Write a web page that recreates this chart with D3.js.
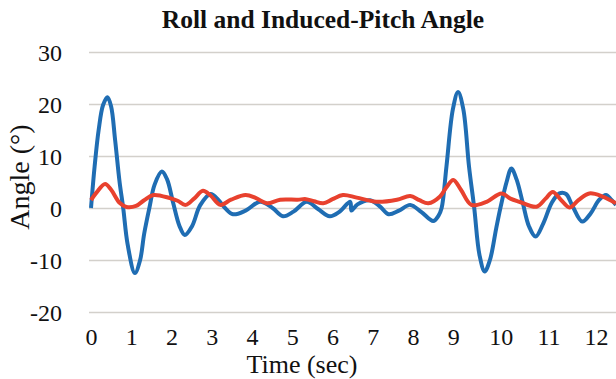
<!DOCTYPE html>
<html>
<head>
<meta charset="utf-8">
<script src="https://cdn.jsdelivr.net/npm/d3@7"></script>
<style>
  body { margin: 0; background: #fff; }
  svg { display: block; }
  svg text { font-family: "Liberation Serif", "Times New Roman", serif; }
</style>
</head>
<body>
<div class="canvas"></div>
<script>
// Data (time in sec, angle in degrees)
const rollTime = [0, 0.09, 0.19, 0.30, 0.41, 0.50, 0.60, 0.71, 0.80, 0.91, 1.09, 1.22, 1.32, 1.45, 1.58, 1.76, 1.89, 2.04, 2.20, 2.33,
  2.51, 2.71, 2.97, 3.17, 3.33, 3.53, 3.84, 4.20, 4.51, 4.77, 5.03, 5.36, 5.64, 5.93, 6.16, 6.44, 6.47, 6.62, 6.93, 7.19,
  7.39, 7.65, 7.93, 8.21, 8.50, 8.63, 8.71, 8.83, 8.99, 9.10, 9.21, 9.33, 9.44, 9.55, 9.66, 9.77, 9.90, 9.99, 10.12, 10.22,
  10.33, 10.46, 10.59, 10.73, 10.89, 11.07, 11.23, 11.37, 11.50, 11.71, 11.89, 12.06, 12.21, 12.32, 12.42]
const rollAngle = [0, 8, 15, 19.8, 21.3, 19.5, 13, 5, 0, -7, -12.5, -10, -5, 0, 4.5, 7.0, 5.5, 1, -3.5, -5.2,
  -3.5, 0.5, 2.7, 1.5, 0, -1.2, -0.5, 1.2, 0, -1.6, -0.7, 1.2, -0.2, -1.6, -0.8, 1.2, -0.5, 0.7, 1.5, 0.2,
  -1.2, -0.5, 0.6, -0.8, -2.5, -1.5, 0, 8, 19, 22.3, 19, 8, 0, -9, -12.2, -10, -4, 0, 5, 7.6,
  5.5, 1, -3.5, -5.5, -3, 1, 2.8, 2.7, 0.5, -2.6, -1, 1.5, 2.5, 1.6, 0.6]

const pitchTime = [0, 0.14, 0.35, 0.50, 0.71, 0.88, 1.12, 1.32, 1.55, 1.96, 2.15, 2.35, 2.56, 2.78, 2.97, 3.21, 3.48, 3.84, 4.10, 4.37,
  4.70, 5.13, 5.34, 5.54, 5.77, 6.00, 6.26, 6.60, 7.09, 7.60, 7.93, 8.16, 8.38, 8.67, 8.83, 9.00, 9.16, 9.38, 9.70, 10.01,
  10.20, 10.39, 10.75, 10.94, 11.09, 11.27, 11.44, 11.63, 11.86, 12.14, 12.42]
const pitchAngle = [1.5, 3, 4.6, 3.5, 1, 0.2, 0.4, 1.5, 2.5, 1.9, 1.4, 0.6, 1.8, 3.3, 2.4, 0.6, 1.6, 2.5, 1.9, 0.9,
  1.6, 1.6, 1.7, 1.3, 0.9, 1.7, 2.5, 2.0, 1.2, 1.6, 2.3, 1.5, 0.9, 2.2, 4.0, 5.4, 3.5, 0.6, 1.2, 2.8,
  1.8, 1.2, 0.25, 1.8, 3.1, 1.5, 0.1, 1.5, 2.8, 2.2, 0.9]

const xTicks = [0, 1, 2, 3, 4, 5, 6, 7, 8, 9, 10, 11, 12]
const yTicks = [-20, -10, 0, 10, 20, 30]

const roll = rollTime.map((t, i) => ({ t: t, v: rollAngle[i] }))
const pitch = pitchTime.map((t, i) => ({ t: t, v: pitchAngle[i] }))

const width = 616
const height = 379
const serif = '"Liberation Serif", "Times New Roman", serif'

const svg = d3.select('.canvas')
  .append('svg')
  .attr('width', width)
  .attr('height', height)

// Scales (the printed tick labels are wider apart after 9 s)
const x = d3.scaleLinear()
  .domain([0, 9, 12.42])
  .range([91, 453.3, 616])

const y = d3.scaleLinear()
  .domain([-20, 30])
  .range([312, 52])

// Gridlines + y labels
const yAxis = d3.axisLeft(y)
  .tickValues(yTicks)
  .tickFormat(d => String(d))
  .tickSize(-(width - 89))
  .tickPadding(27)

const yAxisGroup = svg.append('g')
  .attr('transform', 'translate(89, 0)')
  .call(yAxis)
  .attr('font-family', null)
  .attr('font-size', null)

yAxisGroup.select('.domain').remove()
yAxisGroup.selectAll('line')
  .attr('stroke', '#d3d0cb')
  .attr('stroke-width', 1.6)
yAxisGroup.selectAll('text')
  .style('font-family', serif)
  .style('font-size', '24px')
  .attr('fill', '#111')
  .attr('dy', '0.36em')

// x labels
const xAxis = d3.axisBottom(x)
  .tickValues(xTicks)
  .tickFormat(d => String(d))
  .tickSize(0)
  .tickPadding(16)

const xAxisGroup = svg.append('g')
  .attr('transform', 'translate(0, 312)')
  .call(xAxis)
  .attr('font-family', null)
  .attr('font-size', null)

xAxisGroup.select('.domain').remove()
xAxisGroup.selectAll('text')
  .style('font-family', serif)
  .style('font-size', '24px')
  .attr('fill', '#111')

// Lines
const line = d3.line()
  .x(d => x(d.t))
  .y(d => y(d.v))
  .curve(d3.curveCatmullRom.alpha(0.5))

svg.append('path')
  .datum(roll)
  .attr('d', line)
  .attr('fill', 'none')
  .attr('stroke', '#1f6db3')
  .attr('stroke-width', 4)
  .attr('stroke-linejoin', 'round')

svg.append('path')
  .datum(pitch)
  .attr('d', line)
  .attr('fill', 'none')
  .attr('stroke', '#e8412e')
  .attr('stroke-width', 4)
  .attr('stroke-linejoin', 'round')

// Title and axis labels
svg.append('text')
  .attr('x', 323)
  .attr('y', 28)
  .attr('text-anchor', 'middle')
  .style('font-size', '25.5px')
  .attr('font-weight', 'bold')
  .attr('fill', '#111')
  .text('Roll and Induced-Pitch Angle')

svg.append('text')
  .attr('x', 302)
  .attr('y', 373)
  .attr('text-anchor', 'middle')
  .style('font-size', '26px')
  .attr('fill', '#111')
  .text('Time (sec)')

svg.append('text')
  .attr('transform', 'translate(29, 177) rotate(-90)')
  .attr('text-anchor', 'middle')
  .style('font-size', '28px')
  .attr('fill', '#111')
  .text('Angle (°)')
</script>
</body>
</html>
